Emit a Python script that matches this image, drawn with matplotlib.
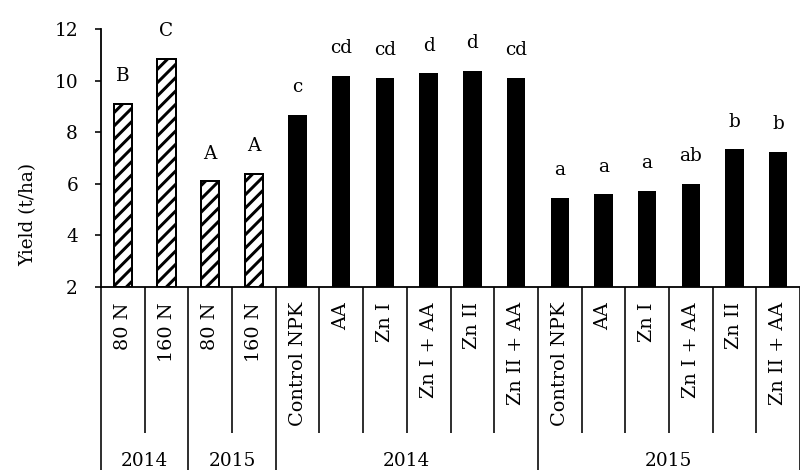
import matplotlib
matplotlib.use("Agg")
import matplotlib.pyplot as plt
import matplotlib.transforms as mtransforms

# ---- data ----
categories = ['80 N', '160 N', '80 N', '160 N',
              'Control NPK', 'AA', 'Zn I', 'Zn I + AA', 'Zn II', 'Zn II + AA',
              'Control NPK', 'AA', 'Zn I', 'Zn I + AA', 'Zn II', 'Zn II + AA']
values = [9.11, 10.84, 6.09, 6.39,
          8.67, 10.19, 10.12, 10.28, 10.36, 10.09,
          5.44, 5.59, 5.73, 6.00, 7.33, 7.23]
letters = ['B', 'C', 'A', 'A',
           'c', 'cd', 'cd', 'd', 'd', 'cd',
           'a', 'a', 'a', 'ab', 'b', 'b']
group_labels = ['2014', '2015', '2014', '2015']
group_sizes = [2, 2, 6, 6]
hatched_count = 4
yticks = [2, 4, 6, 8, 10, 12]

DPI = 160
W, H = 800, 470
def pt(px):
    return px * 72.0 / DPI

plt.rcParams['font.family'] = ['DejaVu Serif']
plt.rcParams['hatch.linewidth'] = pt(3.0)
plt.rcParams['hatch.color'] = 'black'
FS = pt(18.5)
FS_CAT = pt(19.3)

fig = plt.figure(figsize=(W / DPI, H / DPI), dpi=DPI)
ax_left, ax_right = 101 / W, 1.0
ax_bottom, ax_top = 1 - 287 / H, 1 - 29 / H
ax = fig.add_axes([ax_left, ax_bottom, ax_right - ax_left, ax_top - ax_bottom])

n = len(values)
bar_w = 0.42
for i, v in enumerate(values):
    if i < hatched_count:
        ax.bar(i, v - 2, bottom=2, width=bar_w, color='white', edgecolor='black',
               linewidth=pt(2.0), hatch='////', zorder=3)
    else:
        ax.bar(i, v - 2, bottom=2, width=bar_w, color='black', edgecolor='black',
               linewidth=0, zorder=3)
    ax.text(i, v + 1.08, letters[i], ha='center', va='center', fontsize=FS)

ax.set_xlim(-0.5, n - 0.5)
ax.set_ylim(2, 12)
ax.set_yticks(yticks)
ax.set_yticklabels([str(t) for t in yticks], fontsize=FS)
ax.tick_params(axis='y', direction='out', length=pt(6), width=pt(1.6), pad=pt(17))
ax.set_xticks([])
for s in ['top', 'right']:
    ax.spines[s].set_visible(False)
for s in ['left', 'bottom']:
    ax.spines[s].set_linewidth(pt(1.8))
    ax.spines[s].set_color('black')

axh = 287 - 29
trans = mtransforms.blended_transform_factory(ax.transData, ax.transAxes)

# first-level category labels
for i, c in enumerate(categories):
    ax.text(i, (287 - 302) / axh, c, rotation=90, ha='center', va='top',
            fontsize=FS_CAT, transform=trans, clip_on=False)

# category separators (short) and group separators (long)
boundaries = [-0.5]
acc = -0.5
for g in group_sizes:
    acc += g
    boundaries.append(acc)
short_y = (287 - 433) / axh
long_y = (287 - 480) / axh
for k in range(n + 1):
    b = k - 0.5
    y1 = long_y if any(abs(b - bb) < 1e-9 for bb in boundaries) else short_y
    ax.plot([b, b], [0, y1], color='black', lw=pt(1.6), transform=trans,
            clip_on=False, solid_capstyle='butt')

# second-level group labels
start = 0
for g, lab in zip(group_sizes, group_labels):
    center = start + (g - 1) / 2
    ax.text(center, (287 - 452) / axh, lab, ha='center', va='top', fontsize=FS,
            transform=trans, clip_on=False)
    start += g

fig.text(28 / W, 1 - 214 / H, 'Yield (t/ha)', rotation=90, ha='center', va='center',
         fontsize=FS)

fig.savefig('out.png', dpi=DPI)
